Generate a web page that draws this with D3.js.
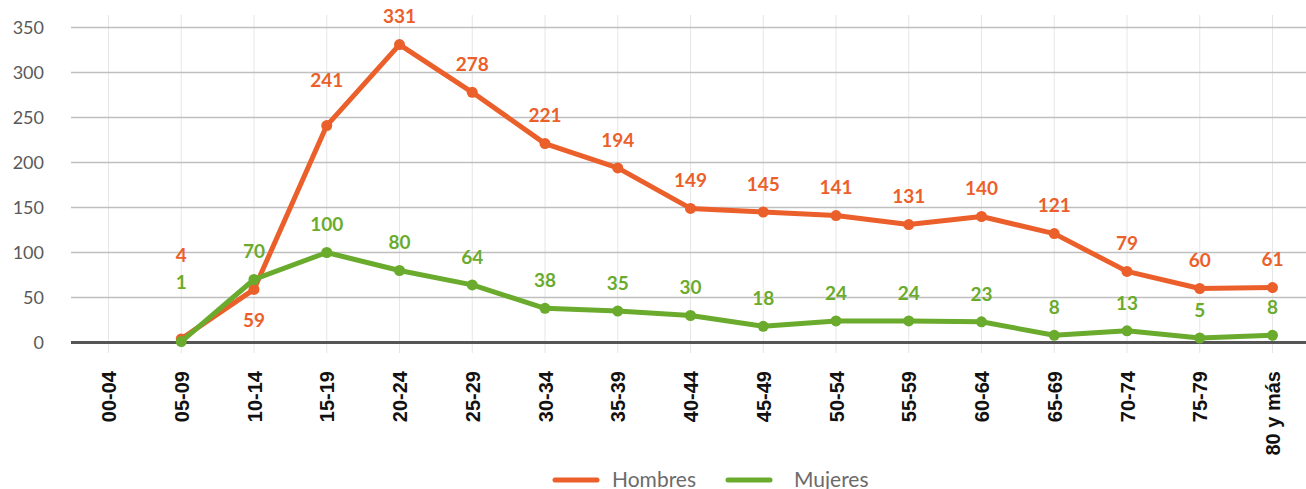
<!DOCTYPE html>
<html>
<head>
<meta charset="utf-8">
<script src="https://cdn.jsdelivr.net/npm/d3@7"></script>
<style>
  body { margin: 0; background: #fff; }
  .y-tick text { font-family: Lato, sans-serif; font-size: 18px; fill: #595959; }
  .x-lab { font-family: "Liberation Sans", Arial, sans-serif; font-size: 20px; font-weight: bold; fill: #111; }
  .val { font-family: Lato, sans-serif; font-size: 19px; font-weight: bold; text-anchor: middle; }
  .legend text { font-family: Lato, sans-serif; font-size: 21px; fill: #6b6b6b; }
</style>
</head>
<body>
<div id="chart"></div>
<script>
// age groups
var categories = ["00-04", "05-09", "10-14", "15-19", "20-24", "25-29", "30-34", "35-39",
  "40-44", "45-49", "50-54", "55-59", "60-64", "65-69", "70-74", "75-79", "80 y más"];

// null = no value for that group
var hombres = [null, 4, 59, 241, 331, 278, 221, 194, 149, 145, 141, 131, 140, 121, 79, 60, 61];
var mujeres = [null, 1, 70, 100, 80, 64, 38, 35, 30, 18, 24, 24, 23, 8, 13, 5, 8];

var yTicks = [0, 50, 100, 150, 200, 250, 300, 350];

var series = [
  { name: "Hombres", values: hombres, color: "#eb5f2b" },
  { name: "Mujeres", values: mujeres, color: "#6aab2e" }
];

// labels that were moved away from the default spot
var labelNudge = {
  "Hombres|05-09": -84, "Mujeres|05-09": -59,
  "Hombres|10-14": 31, "Hombres|15-19": -45
};

var W = 1306, H = 489;
var svg = d3.select("#chart").append("svg")
  .attr("width", W)
  .attr("height", H);

var left = 71, right = 1306;

var x = d3.scalePoint()
  .domain(categories)
  .range([108.5, 1272.5]);

var y = d3.scaleLinear()
  .domain([0, 350])
  .range([342.5, 27.5]);

// vertical grid
svg.append("g")
  .selectAll("line")
  .data(categories)
  .enter().append("line")
  .attr("x1", function(d) { return x(d); })
  .attr("x2", function(d) { return x(d); })
  .attr("y1", 15)
  .attr("y2", 353)
  .attr("stroke", "#e6e6e6")
  .attr("stroke-width", 1);

// horizontal grid + y labels
var yt = svg.append("g").attr("class", "y-tick")
  .selectAll("g")
  .data(yTicks)
  .enter().append("g");

yt.filter(function(d) { return d > 0; }).append("line")
  .attr("x1", left).attr("x2", right)
  .attr("y1", function(d) { return y(d); })
  .attr("y2", function(d) { return y(d); })
  .attr("stroke", "#bfbfbf")
  .attr("stroke-width", 1.5);

yt.append("text")
  .attr("x", 44)
  .attr("y", function(d) { return y(d); })
  .attr("dy", "0.36em")
  .attr("text-anchor", "end")
  .text(function(d) { return d; });

// zero line
svg.append("line")
  .attr("x1", left).attr("x2", right)
  .attr("y1", y(0)).attr("y2", y(0))
  .attr("stroke", "#555")
  .attr("stroke-width", 3);

// x labels, rotated
svg.append("g")
  .selectAll("text")
  .data(categories)
  .enter().append("text")
  .attr("class", "x-lab")
  .attr("transform", function(d) { return "translate(" + (x(d) + 7.5) + ",371) rotate(-90)"; })
  .attr("text-anchor", "end")
  .text(function(d) { return d; });

var line = d3.line()
  .defined(function(d) { return d.v !== null; })
  .x(function(d) { return x(d.c); })
  .y(function(d) { return y(d.v); });

series.forEach(function(s) {
  var pts = categories.map(function(c, i) { return { c: c, v: s.values[i] }; });
  var g = svg.append("g");

  g.append("path")
    .datum(pts)
    .attr("fill", "none")
    .attr("stroke", s.color)
    .attr("stroke-width", 5)
    .attr("stroke-linejoin", "round")
    .attr("d", line);

  var ok = pts.filter(function(d) { return d.v !== null; });

  g.selectAll("circle")
    .data(ok)
    .enter().append("circle")
    .attr("cx", function(d) { return x(d.c); })
    .attr("cy", function(d) { return y(d.v); })
    .attr("r", 5.5)
    .attr("fill", s.color);

  g.selectAll("text")
    .data(ok)
    .enter().append("text")
    .attr("class", "val")
    .attr("fill", s.color)
    .attr("x", function(d) { return x(d.c); })
    .attr("y", function(d) {
      var k = s.name + "|" + d.c;
      var off = labelNudge[k] !== undefined ? labelNudge[k] : -28;
      return y(d.v) + off;
    })
    .attr("dy", "0.36em")
    .text(function(d) { return d.v; });
});

// legend
var leg = svg.append("g").attr("class", "legend");
var legX = [555, 728];
var legGap = [57, 66];
series.forEach(function(s, i) {
  leg.append("line")
    .attr("x1", legX[i]).attr("x2", legX[i] + 42)
    .attr("y1", 480).attr("y2", 480)
    .attr("stroke", s.color)
    .attr("stroke-width", 5)
    .attr("stroke-linecap", "round");
  leg.append("text")
    .attr("x", legX[i] + legGap[i])
    .attr("y", 479)
    .attr("dy", "0.36em")
    .text(s.name);
});
</script>
</body>
</html>
